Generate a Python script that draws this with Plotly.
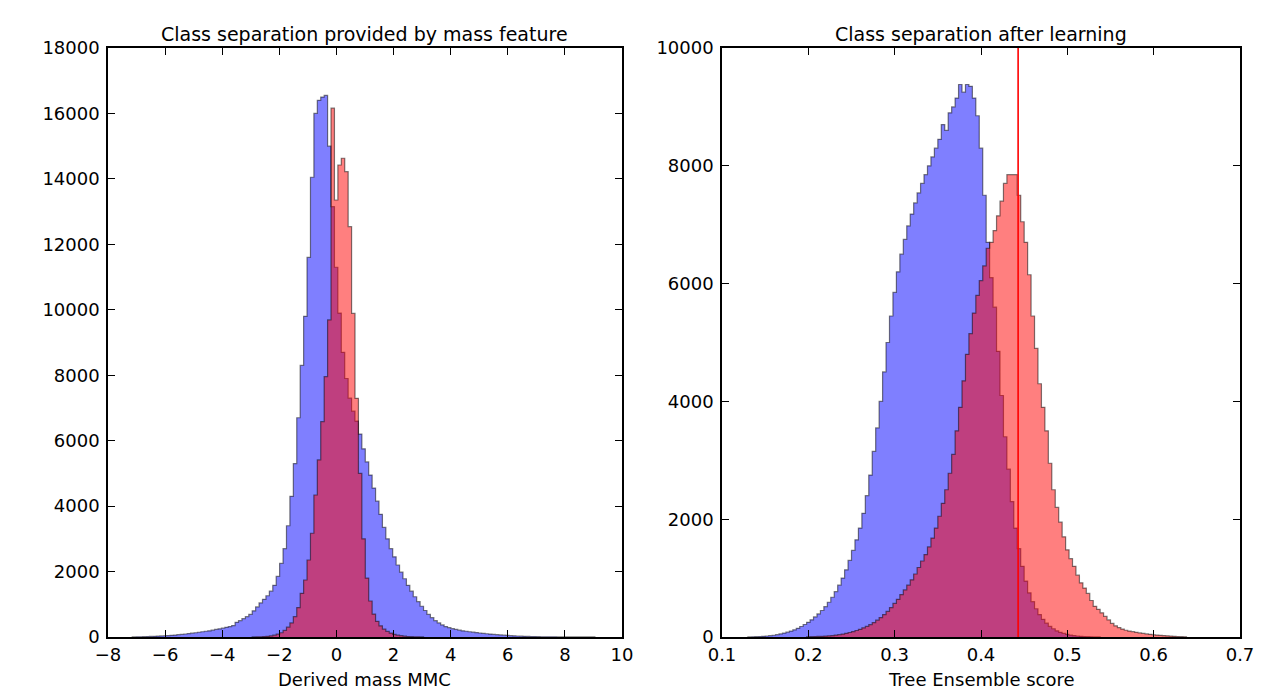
import numpy as np
import plotly.graph_objects as go

# ---------------- Left panel: derived mass MMC ----------------
mass_bin_start = -7.15
mass_bin_width = 0.12
mass_background = [
    3, 5, 8, 10, 14, 18, 22, 27, 32, 38,
    45, 52, 60, 70, 80, 92, 105, 118, 130, 145,
    160, 175, 190, 210, 230, 250, 270, 295, 320, 350,
    450, 500, 560, 620, 690, 800, 920, 1040, 1150, 1260,
    1400, 1580, 1850, 2250, 2700, 3400, 4300, 5300, 6700, 8300,
    9800, 11600, 14050, 16000, 16400, 16500, 16550, 15000, 13150, 11300,
    9900, 8700, 7900, 7300, 6900, 6600, 6200, 5750, 5350, 4950,
    4550, 4150, 3750, 3350, 3000, 2700, 2450, 2200, 1980, 1780,
    1580, 1400, 1230, 1080, 940, 810, 690, 590, 500, 430,
    370, 320, 285, 255, 230, 210, 190, 175, 160, 148,
    135, 122, 110, 100, 90, 80, 72, 64, 56, 49,
    42, 36, 31, 26, 22, 18, 15, 12, 10, 8,
    7, 6, 5, 4, 3, 3, 2, 2, 2, 1,
    1, 1, 1, 1, 1,
]
mass_signal_first_bin = 35
mass_signal = [
    3, 5, 8, 14, 22, 35, 55, 85, 130, 200,
    300, 430, 620, 900, 1335, 1742, 2353, 3170, 4340, 5410,
    6580, 7955, 9690, 16160, 13355, 14425, 14630, 14220, 12540, 9890,
    7295, 5000, 3000, 1800, 1100, 700, 480, 340, 240, 170,
    120, 80, 55, 40, 25, 15, 10, 6, 4, 2,
]

# ---------------- Right panel: tree ensemble score ----------------
score_bin_start = 0.13
score_bin_width = 0.004
score_background = [
    2, 3, 5, 8, 12, 17, 23, 30, 40, 52,
    66, 82, 100, 122, 148, 178, 212, 250, 292, 340,
    392, 450, 515, 590, 675, 770, 880, 1000, 1140, 1300,
    1470, 1650, 1850, 2100, 2400, 2750, 3150, 3550, 4000, 4500,
    5000, 5450, 5850, 6200, 6500, 6750, 6980, 7180, 7370, 7540,
    7700, 7850, 8000, 8150, 8300, 8450, 8700, 8600, 8900, 9000,
    9150, 9380, 9250, 9380, 9350, 9150, 8850, 8300, 7500, 6700,
    6100, 5600, 4850, 4100, 3400, 2850, 2300, 1850, 1500, 1200,
    950, 750, 600, 480, 380, 300, 235, 180, 140, 105,
    80, 60, 45, 33, 24, 17, 12, 8, 5, 3,
    2, 1,
]
score_signal_first_bin = 17
score_signal = [
    3, 5, 7, 9, 12, 15, 20, 25, 32, 40,
    50, 62, 76, 92, 110, 130, 155, 180, 210, 245,
    285, 330, 380, 435, 500, 570, 640, 720, 800, 880,
    970, 1070, 1180, 1290, 1400, 1530, 1680, 1850, 2050, 2270,
    2500, 2780, 3100, 3500, 3900, 4350, 4800, 5150, 5500, 5800,
    6050, 6300, 6600, 6700, 6900, 7150, 7400, 7700, 7850, 7850,
    7850, 7500, 7050, 6700, 6150, 5450, 4900, 4300, 3900, 3500,
    2950, 2500, 2200, 1950, 1700, 1480, 1330, 1200, 1050, 920,
    830, 740, 620, 520, 470, 410, 350, 290, 230, 190,
    160, 135, 115, 100, 90, 80, 70, 60, 52, 45,
    38, 32, 28, 24, 20, 16, 12, 8, 5, 3,
]
score_threshold = 0.443

# tick labels
mass_xticks = [-8, -6, -4, -2, 0, 2, 4, 6, 8, 10]
mass_yticks = [0, 2000, 4000, 6000, 8000, 10000, 12000, 14000, 16000, 18000]
score_xticks = [0.1, 0.2, 0.3, 0.4, 0.5, 0.6, 0.7]
score_xticklabels = ["0.1", "0.2", "0.3", "0.4", "0.5", "0.6", "0.7"]
score_yticks = [0, 2000, 4000, 6000, 8000, 10000]

BLUE = "rgba(0,0,255,0.5)"
RED = "rgba(255,0,0,0.5)"
EDGE = "rgba(0,0,0,0.5)"


def step_trace(start, width, first_bin, counts, fill, xa, ya):
    counts = np.asarray(counts, dtype=float)
    edges = start + width * (first_bin + np.arange(len(counts) + 1))
    x = np.concatenate([[edges[0]], edges, [edges[-1]]])
    y = np.concatenate([[0.0], counts, [counts[-1]], [0.0]])
    return go.Scatter(
        x=x, y=y, mode="lines", line=dict(shape="hv", color=EDGE, width=1.2),
        fill="tozeroy", fillcolor=fill, xaxis=xa, yaxis=ya,
        hoverinfo="skip", showlegend=False,
    )


fig = go.Figure()
fig.add_trace(step_trace(mass_bin_start, mass_bin_width, 0, mass_background, BLUE, "x", "y"))
fig.add_trace(step_trace(mass_bin_start, mass_bin_width, mass_signal_first_bin, mass_signal, RED, "x", "y"))
fig.add_trace(step_trace(score_bin_start, score_bin_width, 0, score_background, BLUE, "x2", "y2"))
fig.add_trace(step_trace(score_bin_start, score_bin_width, score_signal_first_bin, score_signal, RED, "x2", "y2"))
fig.add_trace(go.Scatter(x=[score_threshold, score_threshold], y=[0, 10000], mode="lines",
                         line=dict(color="red", width=1.6), xaxis="x2", yaxis="y2",
                         hoverinfo="skip", showlegend=False))

W, H = 1286, 693
FONT = "DejaVu Sans"
ax_common = dict(
    showgrid=False, zeroline=False, showline=True, linecolor="black", linewidth=1.5,
    mirror="ticks", ticks="inside", ticklen=7, tickwidth=1, tickcolor="black",
    tickfont=dict(family=FONT, size=18, color="black"), automargin=False,
)
ydom = [(H - 637) / H, (H - 48) / H]


def label(text, xc, ytop, size):
    return dict(text=text, x=xc / W, y=(H - ytop) / H, xref="paper", yref="paper",
                showarrow=False, xanchor="center", yanchor="middle",
                font=dict(family=FONT, size=size, color="black"))


fig.update_layout(
    width=W, height=H, margin=dict(l=0, r=0, t=0, b=0, pad=0, autoexpand=False),
    autosize=False,
    paper_bgcolor="white", plot_bgcolor="white",
    xaxis=dict(domain=[108 / W, 622 / W], range=[-8, 10], tickvals=mass_xticks,
               ticktext=[("\u2212" + str(-v)) if v < 0 else str(v) for v in mass_xticks],
               anchor="y", ticklabelstandoff=1, **ax_common),
    yaxis=dict(domain=ydom, range=[0, 18000], tickvals=mass_yticks,
               ticktext=[str(v) for v in mass_yticks], anchor="x", ticklabelstandoff=3,
               **ax_common),
    xaxis2=dict(domain=[722 / W, 1240 / W], range=[0.1, 0.7], tickvals=score_xticks,
                ticktext=score_xticklabels, anchor="y2", ticklabelstandoff=1, **ax_common),
    yaxis2=dict(domain=ydom, range=[0, 10000], tickvals=score_yticks,
                ticktext=[str(v) for v in score_yticks], anchor="x2", ticklabelstandoff=3,
                **ax_common),
    annotations=[
        label("Class separation provided by mass feature", (108 + 622) / 2, 34, 19),
        label("Class separation after learning", (722 + 1240) / 2, 34, 19),
        label("Derived mass MMC", (108 + 622) / 2, 679, 18),
        label("Tree Ensemble score", (722 + 1240) / 2, 679, 18),
    ],
)

fig.write_html("out.html", config={"responsive": False})
